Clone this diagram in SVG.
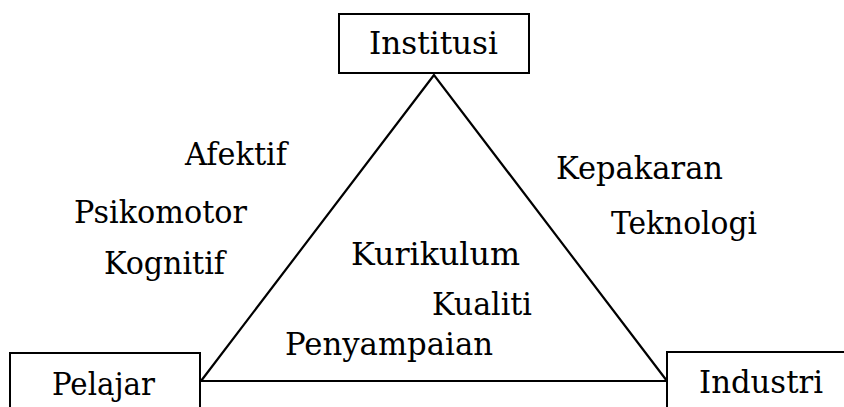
<svg xmlns="http://www.w3.org/2000/svg" width="844" height="407" viewBox="0 0 844 407">
<style>
.box{fill:#fff;stroke:#000;stroke-width:2}
.edge{fill:none;stroke:#000;stroke-width:2.2}
text{font-family:"DejaVu Serif","Liberation Serif",serif;font-size:31px;fill:#000}
</style>
<rect width="844" height="407" fill="#fff"/>
<g id="connectors">
<polygon class="edge" points="434,75 201,381 667,381"/>
</g>
<g id="institusi">
<rect class="box" x="339" y="14" width="190" height="59"/>
<text x="369" y="54" textLength="129" lengthAdjust="spacingAndGlyphs">Institusi</text>
</g>
<g id="pelajar">
<rect class="box" x="10" y="353" width="190" height="60"/>
<text x="52" y="395" textLength="103" lengthAdjust="spacingAndGlyphs">Pelajar</text>
</g>
<g id="industri">
<rect class="box" x="667" y="352" width="190" height="60"/>
<text x="699" y="393" textLength="124" lengthAdjust="spacingAndGlyphs">Industri</text>
</g>
<g id="labels">
<text x="185" y="165" textLength="102" lengthAdjust="spacingAndGlyphs">Afektif</text>
<text x="74" y="223" textLength="173" lengthAdjust="spacingAndGlyphs">Psikomotor</text>
<text x="104" y="274" textLength="121" lengthAdjust="spacingAndGlyphs">Kognitif</text>
<text x="556" y="179" textLength="167" lengthAdjust="spacingAndGlyphs">Kepakaran</text>
<text x="611" y="234" textLength="146" lengthAdjust="spacingAndGlyphs">Teknologi</text>
<text x="351" y="265" textLength="169" lengthAdjust="spacingAndGlyphs">Kurikulum</text>
<text x="432" y="315" textLength="100" lengthAdjust="spacingAndGlyphs">Kualiti</text>
<text x="285" y="355" textLength="208" lengthAdjust="spacingAndGlyphs">Penyampaian</text>
</g>
</svg>
